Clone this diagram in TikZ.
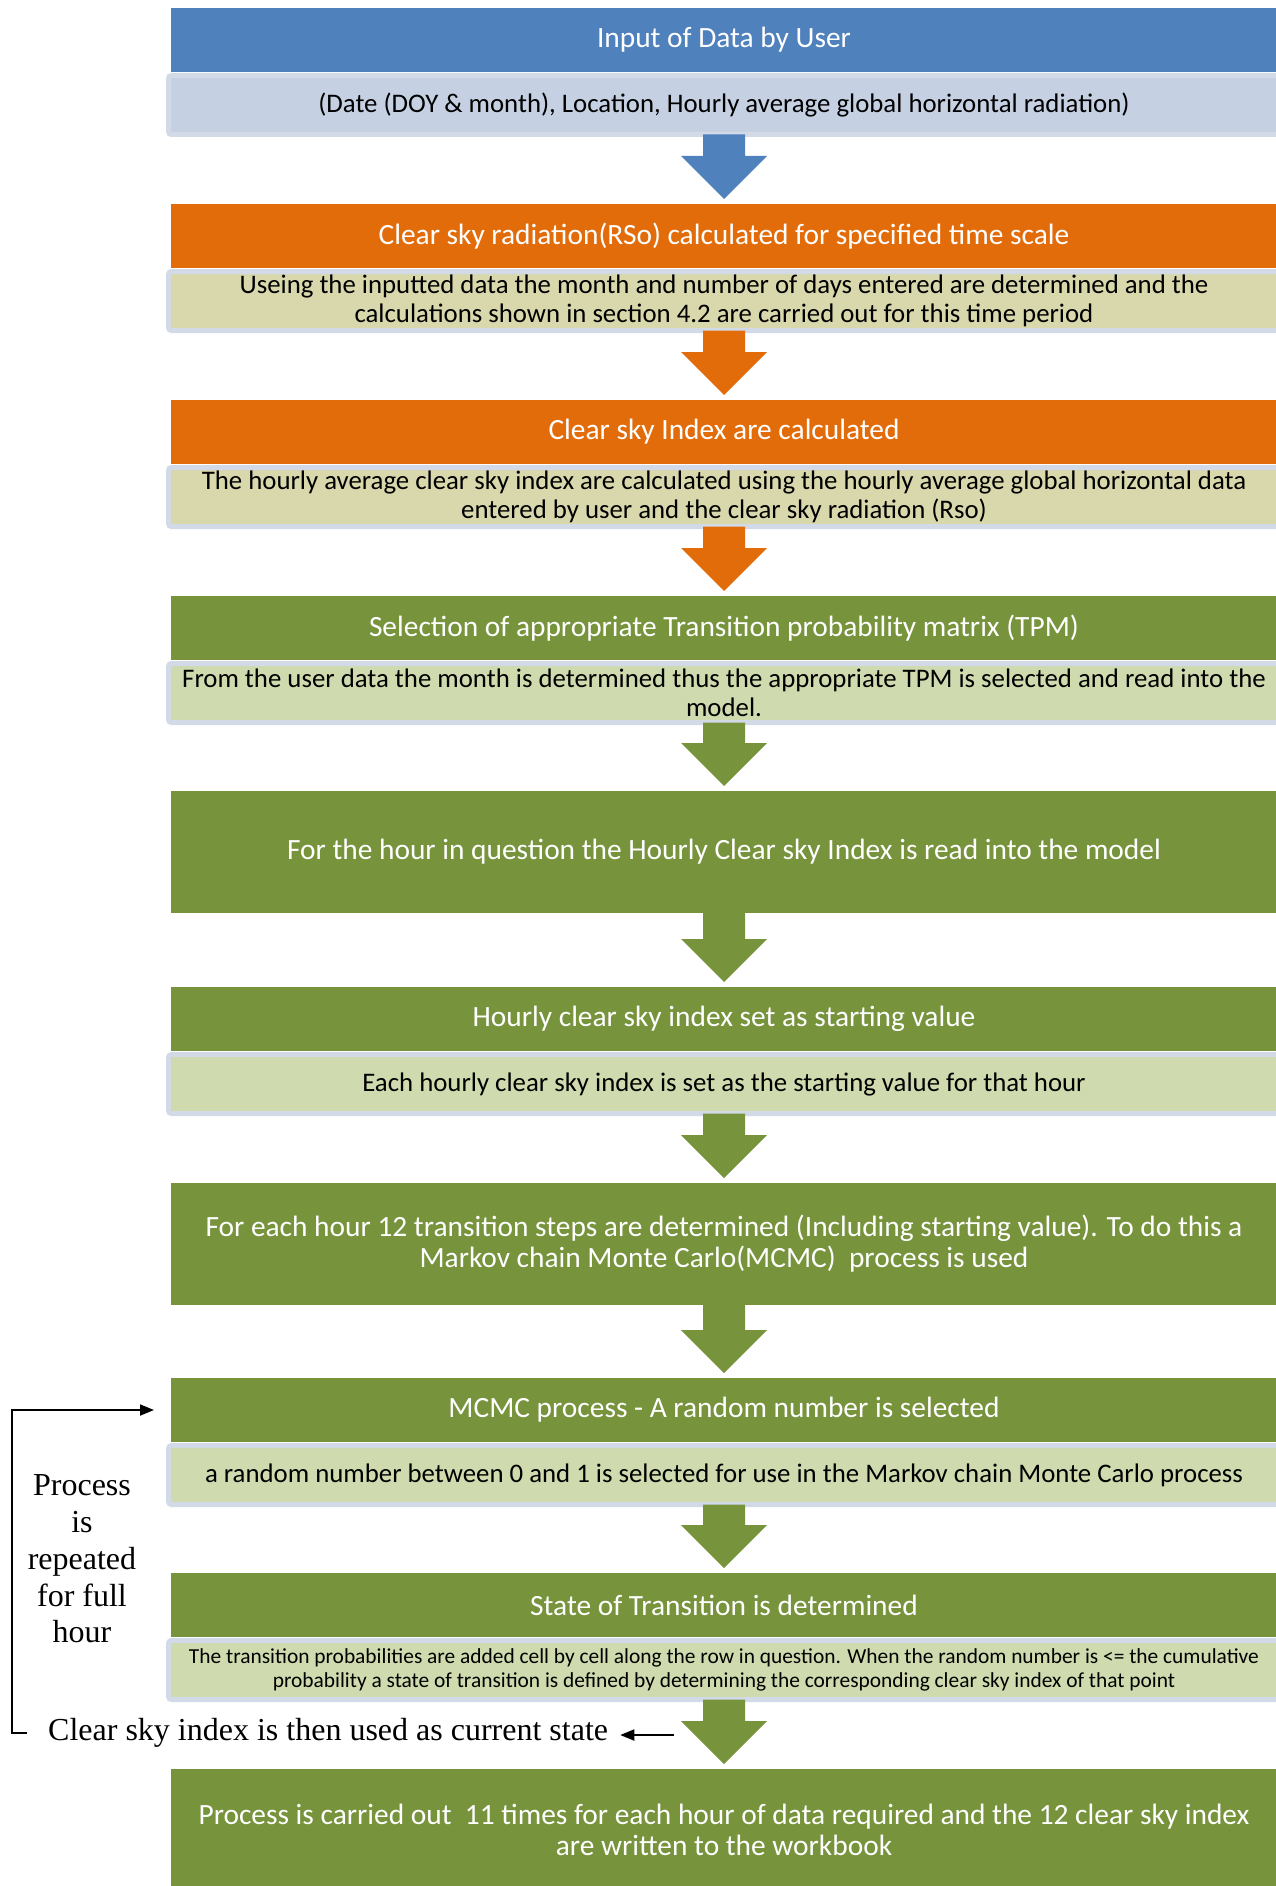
\documentclass[tikz,border=0pt]{standalone}
\usepackage{fontspec}
\setmainfont{Carlito}
\newfontfamily\notefont{Liberation Serif}
\usetikzlibrary{calc,arrows.meta}

\definecolor{hblue}{HTML}{4F81BD}
\definecolor{sblue}{HTML}{C5D0E2}
\definecolor{horange}{HTML}{E36C0A}
\definecolor{sorange}{HTML}{D8D8AC}
\definecolor{hgreen}{HTML}{77933C}
\definecolor{sgreen}{HTML}{CFDBAE}
\definecolor{rimblue}{HTML}{D2D9E7}

\tikzset{
  head/.style={fill=#1, text=white, font=\fontsize{29.4}{31}\selectfont,
    anchor=north west, inner sep=0pt, outer sep=0pt,
    minimum width=1106pt, minimum height=64pt, text width=1090pt, align=flush center},
  tall/.style={head=#1, minimum height=122pt},
  sub/.style={fill=#1, draw=rimblue, line width=5pt, rounded corners=3pt,
    font=\fontsize{26.8}{29}\selectfont, text=black,
    anchor=north west, inner sep=0pt, outer sep=0pt,
    minimum width=1111pt, minimum height=59pt, text width=1100pt, align=flush center},
  small/.style={font=\fontsize{21.4}{24}\selectfont},
  note/.style={font=\notefont\fontsize{32}{36.7}\selectfont, inner sep=2pt, align=center},
  loopline/.style={line width=1.8pt, draw=black},
}

% block arrow from the bottom of one box to the top of the next
\newcommand\flowarrow[3]{%
  \fill[#1] ($(#2.south)+(-21,0)$) -- ($(#2.south)+(21,0)$)
    -- ($(#3.north)+(21,-48)$) -- ($(#3.north)+(43,-48)$)
    -- ($(#3.north)+(0,-5)$)
    -- ($(#3.north)+(-43,-48)$) -- ($(#3.north)+(-21,-48)$) -- cycle;}

\begin{document}
\begin{tikzpicture}[x=1pt,y=-1pt]
\useasboundingbox (0,0) rectangle (1275,1886);

% 1: user input
\node[head=hblue] (h1) at (171,8) {Input of Data by User};
\node[sub=sblue] (s1) at (168.5,75.5) {(Date (DOY \& month), Location, Hourly average global horizontal radiation)};

% 2: clear sky radiation
\node[head=horange] (h2) at (171,204) {Clear sky radiation(RSo) calculated for specified time scale};
\node[sub=sorange] (s2) at (168.5,271.5) {Useing the inputted data the month and number of days entered are determined and the\\calculations shown in section 4.2 are carried out for this time period};

% 3: clear sky index
\node[head=horange] (h3) at (171,400) {Clear sky Index are calculated};
\node[sub=sorange] (s3) at (168.5,467.5) {The hourly average clear sky index are calculated using the hourly average global horizontal data\\entered by user and the clear sky radiation (Rso)};

% 4: TPM selection
\node[head=hgreen] (h4) at (171,596) {Selection of appropriate Transition probability matrix (TPM)};
\node[sub=sgreen] (s4) at (168.5,663.5) {From the user data the month is determined thus the appropriate TPM is selected and read into the\\model.};

% 5: hourly index
\node[tall=hgreen] (h5) at (171,791) {For the hour in question the Hourly Clear sky Index is read into the model};

% 6: starting value
\node[head=hgreen] (h6) at (171,987) {Hourly clear sky index set as starting value};
\node[sub=sgreen] (s6) at (168.5,1054.5) {Each hourly clear sky index is set as the starting value for that hour};

% 7: transition steps
\node[tall=hgreen] (h7) at (171,1183) {For each hour 12 transition steps are determined (Including starting value). To do this a\\Markov chain Monte Carlo(MCMC)\ \ process is used};

% 8: random number
\node[head=hgreen] (h8) at (171,1378) {MCMC process - A random number is selected};
\node[sub=sgreen] (s8) at (168.5,1445.5) {a random number between 0 and 1 is selected for use in the Markov chain Monte Carlo process};

% 9: state of transition
\node[head=hgreen] (h9) at (171,1573) {State of Transition is determined};
\node[sub=sgreen, small] (s9) at (168.5,1640.5) {The transition probabilities are added cell by cell along the row in question. When the random number is <= the cumulative\\probability a state of transition is defined by determining the corresponding clear sky index of that point};

% 10: output
\node[tall=hgreen] (h10) at (171,1769) {Process is carried out\ \ 11 times for each hour of data required and the 12 clear sky index\\are written to the workbook};

% connecting block arrows
\flowarrow{hblue}{s1}{h2}
\flowarrow{horange}{s2}{h3}
\flowarrow{horange}{s3}{h4}
\flowarrow{hgreen}{s4}{h5}
\flowarrow{hgreen}{h5}{h6}
\flowarrow{hgreen}{s6}{h7}
\flowarrow{hgreen}{h7}{h8}
\flowarrow{hgreen}{s8}{h9}
\flowarrow{hgreen}{s9}{h10}

% repetition loop on the left
\node[note] (rep) at (82,1559) {Process\\is\\repeated\\for full\\hour};
\node[note, anchor=west] (cur) at (46,1733) {Clear sky index is then used as current state};
\coordinate (curfrom) at (674,1735);
\coordinate (loopin) at (27,1733);
\coordinate (loopout) at ($(h8.west)+(-17,0)$);
\draw[loopline, -{Triangle[length=14pt,width=11pt]}] (curfrom) -- ([xshift=10pt]cur.east |- curfrom);
\draw[loopline, -{Triangle[length=14pt,width=11pt]}] (loopin) -- ++(-15,0) |- (loopout);
\end{tikzpicture}
\end{document}
